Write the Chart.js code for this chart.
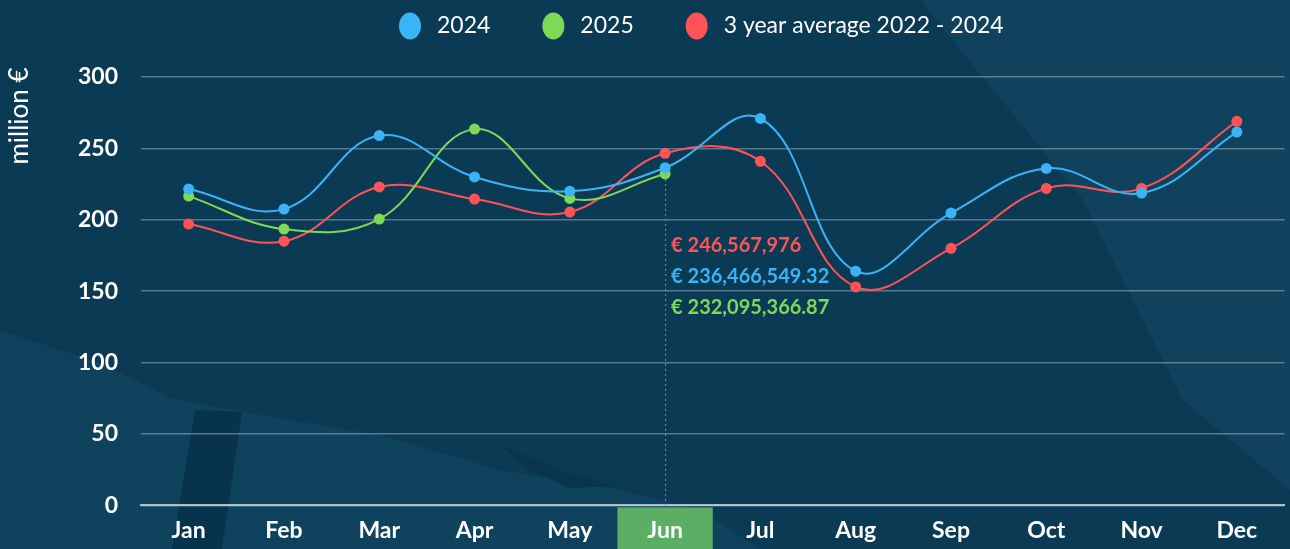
<!DOCTYPE html>
<html>
<head>
<meta charset="utf-8">
<script src="https://cdn.jsdelivr.net/npm/chart.js@4"></script>
<style>
  html, body { margin: 0; padding: 0; background: #0b3a55; }
  body { width: 1290px; height: 549px; overflow: hidden; }
</style>
</head>
<body>
<canvas id="salesChart" width="1290" height="549"></canvas>
<script>
// 月
const months = ['Jan', 'Feb', 'Mar', 'Apr', 'May', 'Jun', 'Jul', 'Aug', 'Sep', 'Oct', 'Nov', 'Dec'];
// million €
const values2024 = [221.5, 207.5, 259, 230, 220, 236.46654932, 271, 164, 204.7, 236, 218.7, 261.4];
const values2025 = [216.6, 193.5, 200.5, 263.5, 215, 232.09536687, null, null, null, null, null, null];
const valuesAvg = [197, 185, 223, 214.5, 205.4, 246.567976, 241, 153, 180, 222, 222, 269];
const yTicks = [0, 50, 100, 150, 200, 250, 300];
const activeIndex = 5; // Jun

const FONT = 'Lato, "Open Sans", sans-serif';
const blue = '#3bb4f6', green = '#7ed957', red = '#ff5358';

const fmtEuro = v => '€ ' + (v * 1e6).toLocaleString('en-US', { maximumFractionDigits: 2 });

function poly(ctx, pts, color) {
  ctx.fillStyle = color;
  ctx.beginPath();
  pts.forEach((p, i) => i ? ctx.lineTo(p[0], p[1]) : ctx.moveTo(p[0], p[1]));
  ctx.closePath();
  ctx.fill();
}

// 背景 + Jun の強調表示 + ツールチップ風の値 + 凡例
const highlightPlugin = {
  id: 'highlight',
  beforeDraw(chart) {
    const { ctx, scales: { x }, chartArea } = chart;
    ctx.save();
    // 背景の模様
    poly(ctx, [[0, 0], [1290, 0], [1290, 549], [0, 549]], '#0b3a55');
    poly(ctx, [[920, 0], [1290, 0], [1290, 490], [1183, 400], [1083, 200]], '#10415d');
    poly(ctx, [[0, 330], [100, 363], [170, 398], [260, 415], [380, 435], [500, 470], [610, 488], [700, 510], [760, 549], [0, 549]], '#0f425d');
    poly(ctx, [[500, 445], [560, 470], [615, 486], [570, 488], [530, 470]], '#08344e');
    poly(ctx, [[195, 410], [242, 412], [222, 549], [172, 549]], '#08334d');
    // Jun の枠
    const cx = x.getPixelForValue(activeIndex);
    const w = x.width / months.length;
    ctx.fillStyle = '#5aaf64';
    ctx.fillRect(cx - w / 2, chartArea.bottom + 2, w, chart.height - chartArea.bottom - 2);
    ctx.restore();
  },
  afterDraw(chart) {
    const { ctx, scales: { x, y }, chartArea } = chart;
    const cx = x.getPixelForValue(activeIndex);
    ctx.save();
    // 縦の点線
    ctx.strokeStyle = '#5aaf64';
    ctx.lineWidth = 1;
    ctx.setLineDash([2, 3]);
    ctx.beginPath();
    ctx.moveTo(cx + 0.5, y.getPixelForValue(values2025[activeIndex]));
    ctx.lineTo(cx + 0.5, chartArea.bottom);
    ctx.stroke();
    ctx.setLineDash([]);
    // 値
    ctx.font = 'bold 20px ' + FONT;
    ctx.textBaseline = 'middle';
    ctx.textAlign = 'left';
    const rows = [
      [valuesAvg[activeIndex], red],
      [values2024[activeIndex], blue],
      [values2025[activeIndex], green]
    ];
    rows.forEach((r, i) => {
      ctx.fillStyle = r[1];
      ctx.fillText(fmtEuro(r[0]), cx + 6, 246 + i * 31);
    });
    // 凡例
    ctx.font = '23px ' + FONT;
    const items = chart.data.datasets.map(d => ({ text: d.label, color: d.borderColor, w: 22 + 16 + ctx.measureText(d.label).width }));
    const gap = 52;
    let lx = 399;
    items.forEach(it => {
      ctx.fillStyle = it.color;
      ctx.beginPath();
      ctx.ellipse(lx + 11, 26, 11, 13.5, 0, 0, Math.PI * 2);
      ctx.fill();
      ctx.fillStyle = '#ffffff';
      ctx.fillText(it.text, lx + 38, 26);
      lx += it.w + gap;
    });
    // y軸タイトル
    ctx.translate(20, 116);
    ctx.rotate(-Math.PI / 2);
    ctx.font = '26px ' + FONT;
    ctx.fillStyle = '#ffffff';
    ctx.textAlign = 'center';
    ctx.fillText('million €', 0, 0);
    ctx.restore();
  }
};

const ctx = document.getElementById('salesChart').getContext('2d');
const salesChart = new Chart(ctx, {
  type: 'line',
  data: {
    labels: months,
    datasets: [{
      label: '2024',
      data: values2024,
      borderColor: blue,
      backgroundColor: blue,
      fill: false,
      tension: 0.4
    }, {
      label: '2025',
      data: values2025,
      borderColor: green,
      backgroundColor: green,
      fill: false,
      tension: 0.4
    }, {
      label: '3 year average 2022 - 2024',
      data: valuesAvg,
      borderColor: red,
      backgroundColor: red,
      fill: false,
      tension: 0.4
    }]
  },
  options: {
    responsive: false,
    animation: false,
    layout: { padding: { left: 55, right: 5, top: 77, bottom: -6 } },
    elements: {
      point: { radius: 5.5, borderWidth: 0, hoverRadius: 5.5 },
      line: { borderWidth: 2 }
    },
    plugins: {
      legend: { display: false },
      tooltip: { enabled: false }
    },
    scales: {
      x: {
        offset: true,
        grid: { display: false, drawTicks: false, offset: true },
        border: { color: 'rgba(220,230,235,0.75)', width: 2 },
        ticks: { color: '#ffffff', padding: 11, maxRotation: 0, autoSkip: false, font: { family: FONT, size: 23, weight: 'bold' } }
      },
      y: {
        min: 0,
        max: 300,
        afterBuildTicks: axis => { axis.ticks = yTicks.map(v => ({ value: v })); },
        grid: { color: 'rgba(200,215,225,0.4)', lineWidth: 1.5, drawTicks: false },
        border: { display: false },
        ticks: { color: '#ffffff', padding: 23, font: { family: FONT, size: 23, weight: 'bold' } }
      }
    }
  },
  plugins: [highlightPlugin]
});
</script>
</body>
</html>
